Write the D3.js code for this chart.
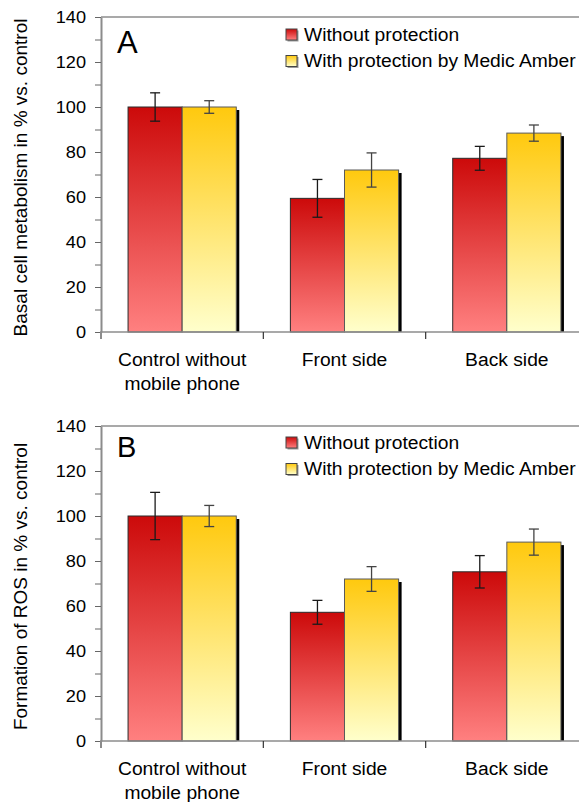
<!DOCTYPE html>
<html>
<head>
<meta charset="utf-8">
<script src="https://cdn.jsdelivr.net/npm/d3@7/dist/d3.min.js"></script>
<style>
body { margin: 0; background: #fff; }
text { font-family: "Liberation Sans", Arial, sans-serif; fill: #000; }
</style>
</head>
<body>
<script>
"use strict";

///////////////////
// data
///////////////////

var categories = ["Control without\nmobile phone", "Front side", "Back side"];
var seriesNames = ["Without protection", "With protection by Medic Amber"];
var yTicks = [0, 10, 20, 30, 40, 50, 60, 70, 80, 90, 100, 110, 120, 130, 140];

// panel A: basal cell metabolism
var metabWithout = [100, 59.4, 77.2];
var metabWithoutErr = [6.3, 8.4, 5.3];
var metabWith = [100, 72.0, 88.4];
var metabWithErr = [2.8, 7.6, 3.6];

// panel B: ROS formation
var rosWithout = [100, 57.2, 75.2];
var rosWithoutErr = [10.5, 5.3, 7.2];
var rosWith = [100, 72.0, 88.4];
var rosWithErr = [4.7, 5.5, 5.8];

///////////////////
// drawing
///////////////////

var W = 579, H = 802;
var left = 101, right = 588; // right edge runs out of the picture
var sx = 1.07; // the original lettering is a bit wide

var svg = d3.select("body").append("svg")
    .attr("width", W).attr("height", H);

var defs = svg.append("defs");
function gradient(id, top, bottom) {
    var g = defs.append("linearGradient").attr("id", id)
        .attr("x1", 0).attr("y1", 0).attr("x2", 0).attr("y2", 1);
    g.append("stop").attr("offset", "0%").attr("stop-color", top);
    g.append("stop").attr("offset", "100%").attr("stop-color", bottom);
}
gradient("gRed", "#cc0a0a", "#ff8080");
gradient("gYel", "#ffc90e", "#ffffcc");
var fills = ["url(#gRed)", "url(#gYel)"];
var strokes = ["#2a2a2a", "#5a5a5a"];

var x = d3.scaleBand().domain(categories).range([left, right]);
var xs = d3.scaleBand().domain(seriesNames).range([0, x.bandwidth()]).paddingOuter(0.5);

// place a horizontally widened text
function wideText(sel, px, py) {
    return sel.attr("transform", "translate(" + px + "," + py + ") scale(" + sx + ",1)");
}

function drawPanel(cfg) {
    var y = d3.scaleLinear().domain([0, 140]).range([cfg.bottom, cfg.top]);
    var g = svg.append("g");

    var rows = [];
    categories.forEach(function(c, i) {
        rows.push({ cat: c, s: 0, v: cfg.without[i], e: cfg.withoutErr[i] });
        rows.push({ cat: c, s: 1, v: cfg.withV[i], e: cfg.withErr[i] });
    });
    function bx(d) { return x(d.cat) + xs(seriesNames[d.s]); }

    // frame top line
    g.append("line")
        .attr("x1", left).attr("x2", right)
        .attr("y1", y(140)).attr("y2", y(140))
        .attr("stroke", "#8c8c8c").attr("stroke-width", 1.5);

    // shadows
    g.selectAll("rect.shadow").data(rows).enter().append("rect")
        .attr("class", "shadow")
        .attr("x", function(d) { return bx(d) + 3; })
        .attr("y", function(d) { return y(d.v) + 3; })
        .attr("width", xs.bandwidth())
        .attr("height", function(d) { return y(0) - y(d.v) - 3; })
        .attr("fill", "#000");

    // bars
    g.selectAll("rect.bar").data(rows).enter().append("rect")
        .attr("class", "bar")
        .attr("x", bx)
        .attr("y", function(d) { return y(d.v); })
        .attr("width", xs.bandwidth())
        .attr("height", function(d) { return y(0) - y(d.v); })
        .attr("fill", function(d) { return fills[d.s]; })
        .attr("stroke", function(d) { return strokes[d.s]; })
        .attr("stroke-width", 1);

    // error bars
    var eb = g.selectAll("g.err").data(rows).enter().append("g")
        .attr("class", "err")
        .attr("stroke", function(d) { return d.s === 0 ? "#1a1a1a" : "#444"; })
        .attr("stroke-width", 1.3);
    var cx = function(d) { return bx(d) + xs.bandwidth() / 2; };
    eb.append("line")
        .attr("x1", cx).attr("x2", cx)
        .attr("y1", function(d) { return y(d.v + d.e); })
        .attr("y2", function(d) { return y(d.v - d.e); });
    [1, -1].forEach(function(sg) {
        eb.append("line")
            .attr("x1", function(d) { return cx(d) - 5; })
            .attr("x2", function(d) { return cx(d) + 5; })
            .attr("y1", function(d) { return y(d.v + sg * d.e); })
            .attr("y2", function(d) { return y(d.v + sg * d.e); });
    });

    // y axis
    var ya = g.append("g")
        .attr("transform", "translate(" + left + ",0)")
        .call(d3.axisLeft(y).tickValues(yTicks).tickSize(6).tickSizeOuter(0).tickPadding(9)
            .tickFormat(function(d) { return d % 20 === 0 ? d : ""; }));
    ya.select(".domain").attr("stroke", "#8c8c8c").attr("stroke-width", 2);
    ya.selectAll(".tick line").attr("stroke", "#666");
    ya.selectAll(".tick text")
        .attr("x", -15 / sx)
        .attr("transform", "scale(" + sx + ",1)")
        .style("font-family", "'Liberation Sans', Arial, sans-serif")
        .style("font-size", "17px").attr("fill", "#000");

    // x axis
    g.append("line")
        .attr("x1", left - 1).attr("x2", right)
        .attr("y1", y(0)).attr("y2", y(0))
        .attr("stroke", "#8c8c8c").attr("stroke-width", 1.5);
    var bounds = categories.map(function(c) { return x(c); }).concat([right]);
    g.selectAll("line.xt").data(bounds).enter().append("line")
        .attr("class", "xt")
        .attr("x1", function(d) { return d; }).attr("x2", function(d) { return d; })
        .attr("y1", y(0)).attr("y2", y(0) + 7)
        .attr("stroke", function(d, i) { return i === 0 ? "#8c8c8c" : "#333"; })
        .attr("stroke-width", function(d, i) { return i === 0 ? 2 : 1.2; });

    // category labels
    g.selectAll("text.cat").data(categories).enter().append("text")
        .attr("class", "cat")
        .attr("text-anchor", "middle")
        .style("font-size", "18px")
        .each(function(c) {
            var t = d3.select(this);
            wideText(t, x(c) + x.bandwidth() / 2, y(0) + 34);
            c.split("\n").forEach(function(line, k) {
                t.append("tspan")
                    .attr("x", 0)
                    .attr("y", k * 24)
                    .text(line);
            });
        });

    // y title
    g.append("text")
        .attr("transform", "translate(27," + ((cfg.top + cfg.bottom) / 2 + 3) + ") rotate(-90)")
        .attr("text-anchor", "middle")
        .style("font-size", "19px")
        .text(cfg.title);

    // panel letter
    g.append("text")
        .attr("x", 117).attr("y", cfg.letterY)
        .style("font-size", cfg.letterSize + "px")
        .text(cfg.letter);

    // legend
    var lg = g.selectAll("g.leg").data(seriesNames).enter().append("g")
        .attr("class", "leg")
        .attr("transform", function(d, i) {
            return "translate(286," + (cfg.top + cfg.legendDy + i * 26.5) + ")";
        });
    lg.append("rect")
        .attr("x", 1.5).attr("y", 1.5).attr("width", 11).attr("height", 11)
        .attr("fill", "#999");
    lg.append("rect")
        .attr("width", 11).attr("height", 11)
        .attr("fill", function(d, i) { return fills[i]; })
        .attr("stroke", "#444").attr("stroke-width", 1);
    lg.append("text")
        .call(wideText, 18, 11.5)
        .style("font-size", "18px")
        .text(function(d) { return d; });
}

drawPanel({
    top: 17, bottom: 332,
    without: metabWithout, withoutErr: metabWithoutErr,
    withV: metabWith, withErr: metabWithErr,
    title: "Basal cell metabolism in % vs. control",
    letter: "A", letterY: 53, letterSize: 31,
    legendDy: 12
});

drawPanel({
    top: 426, bottom: 741,
    without: rosWithout, withoutErr: rosWithoutErr,
    withV: rosWith, withErr: rosWithErr,
    title: "Formation of ROS in % vs. control",
    letter: "B", letterY: 457, letterSize: 29,
    legendDy: 11
});
</script>
</body>
</html>
